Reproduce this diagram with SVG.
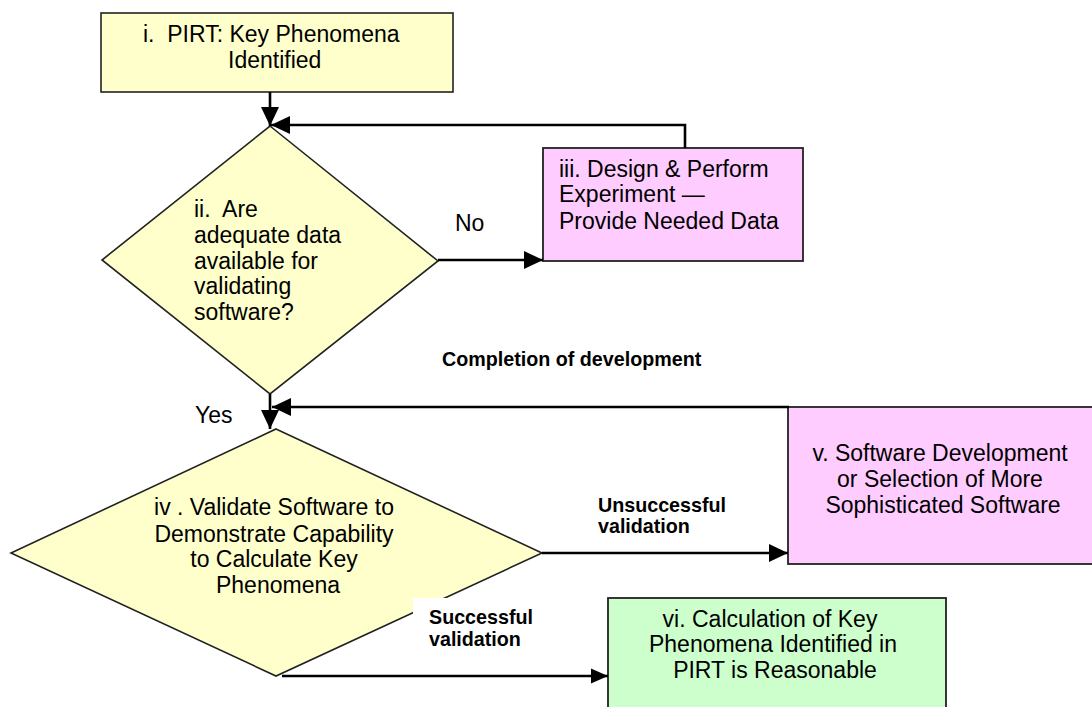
<svg xmlns="http://www.w3.org/2000/svg" width="1092" height="707" viewBox="0 0 1092 707">
<defs>
<style>
.t{font-family:"Liberation Sans",Arial,sans-serif;font-size:23px;fill:#000;white-space:pre}
.b{font-family:"Liberation Sans",Arial,sans-serif;font-size:19.7px;font-weight:bold;fill:#000;white-space:pre}
.c{text-anchor:middle}
.yel{fill:#FFFFCC;stroke:#222;stroke-width:1.6}
.pink{fill:#FFCCFF;stroke:#222;stroke-width:1.8}
.green{fill:#CCFFCC;stroke:#222;stroke-width:1.8}
.ln{fill:none;stroke:#000;stroke-width:2.6}
</style>
<marker id="ah" markerUnits="userSpaceOnUse" markerWidth="20" markerHeight="20" viewBox="0 0 20 20" refX="19" refY="10" orient="auto">
<path d="M0,1 L19,10 L0,19 z" fill="#000"/>
</marker>
<marker id="ahs" markerUnits="userSpaceOnUse" markerWidth="18" markerHeight="16" viewBox="0 0 18 16" refX="17" refY="8" orient="auto">
<path d="M0,0.5 L17,8 L0,15.5 z" fill="#000"/>
</marker>
</defs>
<rect width="1092" height="707" fill="#fff"/>

<g id="node-i">
<rect class="yel" x="101" y="13" width="352" height="79"/>
<text class="t" x="143" y="42">i.  PIRT: Key Phenomena</text>
<text class="t" x="228" y="68">Identified</text>
</g>

<g id="node-ii">
<polygon class="yel" points="270,126 438,261 270,394 102,260"/>
<text class="t" x="194" y="217">ii.  Are</text>
<text class="t" x="194" y="243">adequate data</text>
<text class="t" x="194" y="269">available for</text>
<text class="t" x="194" y="294">validating</text>
<text class="t" x="194" y="320">software?</text>
</g>

<g id="node-iii">
<rect class="pink" x="543" y="148" width="260" height="113"/>
<text class="t" x="559" y="177">iii. Design &amp; Perform</text>
<text class="t" x="559" y="202">Experiment —</text>
<text class="t" x="559" y="229">Provide Needed Data</text>
</g>

<g id="node-iv">
<polygon class="yel" points="276,429 542,553 276,676 11,553"/>
<text class="t c" x="274" y="515">iv . Validate Software to</text>
<text class="t c" x="274" y="542">Demonstrate Capability</text>
<text class="t c" x="274" y="567">to Calculate Key</text>
<text class="t c" x="278" y="593">Phenomena</text>
</g>

<g id="node-v">
<rect class="pink" x="788" y="407" width="310" height="157"/>
<text class="t c" x="940" y="461">v. Software Development</text>
<text class="t c" x="940" y="487">or Selection of More</text>
<text class="t c" x="943" y="513">Sophisticated Software</text>
</g>

<g id="node-vi">
<rect class="green" x="608" y="598" width="338" height="115"/>
<text class="t c" x="770" y="627">vi. Calculation of Key</text>
<text class="t c" x="773" y="652">Phenomena Identified in</text>
<text class="t c" x="775" y="678">PIRT is Reasonable</text>
</g>

<g id="connectors">
<line class="ln" x1="270" y1="92" x2="270" y2="126" stroke-width="3" marker-end="url(#ah)"/>
<polyline class="ln" points="685,148 685,125 271,125" stroke-width="3" marker-end="url(#ah)"/>
<line class="ln" x1="438" y1="260" x2="543" y2="260" marker-end="url(#ah)"/>
<line class="ln" x1="270" y1="394" x2="270" y2="429" stroke-width="3" marker-end="url(#ah)"/>
<line class="ln" x1="789" y1="407" x2="272" y2="407" marker-end="url(#ah)"/>
<line class="ln" x1="542" y1="553" x2="788" y2="553" marker-end="url(#ah)"/>
<line class="ln" x1="282" y1="676" x2="608" y2="676" stroke-width="1.8" marker-end="url(#ahs)"/>
</g>

<g id="labels">
<text class="t" x="455" y="231">No</text>
<text class="t" x="195" y="423">Yes</text>
<text class="b" x="442" y="366">Completion of development</text>
<text class="b" x="598" y="512">Unsuccessful</text>
<text class="b" x="598" y="533">validation</text>
<rect x="413" y="598" width="150" height="56" fill="#fff"/>
<text class="b" x="429" y="624">Successful</text>
<text class="b" x="429" y="646">validation</text>
</g>
</svg>
